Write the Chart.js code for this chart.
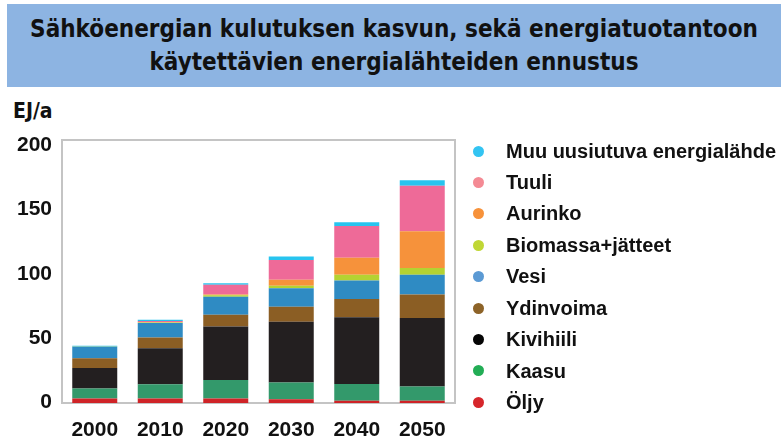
<!DOCTYPE html>
<html><head><meta charset="utf-8">
<script src="https://cdn.jsdelivr.net/npm/chart.js@4/dist/chart.umd.min.js"></script>
<style>
html,body{margin:0;padding:0;background:#fff;width:781px;height:441px;overflow:hidden;}
#wrap{position:relative;width:781px;height:441px;}
#title{position:absolute;left:7px;top:4px;width:774px;height:74px;padding-top:9px;background:#8db4e2;
 font-family:"DejaVu Sans Condensed","DejaVu Sans",sans-serif;font-weight:bold;font-size:24px;color:#111;text-align:center;line-height:33px;}
#unit{position:absolute;left:13px;top:98px;font-family:"DejaVu Sans Condensed","DejaVu Sans",sans-serif;font-weight:bold;font-size:21px;color:#111;line-height:26px;}
#chart{position:absolute;left:0;top:0;}
.dot{position:absolute;left:473px;width:11px;height:11px;border-radius:50%;}
.lt{position:absolute;left:506px;white-space:nowrap;font-family:"Liberation Sans",Arial,sans-serif;font-weight:bold;font-size:20px;color:#111;line-height:22px;}
</style></head>
<body><div id="wrap">
<div id="title">Sähköenergian kulutuksen kasvun, sekä energiatuotantoon<br>käytettävien energialähteiden ennustus</div>
<div id="unit">EJ/a</div>
<canvas id="chart" width="781" height="441"></canvas>
<div id="legend"></div>
</div>
<script>
// Categories
const years = ['2000','2010','2020','2030','2040','2050'];
// Series values (EJ/a), bottom to top in the stack
const oljy      = [3.5, 3.5, 3.5, 3.0, 1.8, 1.8];
const kaasu     = [7.8, 11.2, 14.5, 13.0, 13.0, 11.0];
const kivihiili = [16.0, 28.0, 41.7, 47.3, 52.0, 53.4];
const ydinvoima = [7.5, 8.4, 9.1, 11.7, 14.3, 18.4];
const vesi      = [9.0, 11.2, 14.1, 14.4, 14.3, 15.4];
const biomassa  = [0.3, 0.5, 1.0, 2.0, 4.5, 5.2];
const aurinko   = [0.0, 0.2, 0.6, 4.7, 13.3, 28.6];
const tuuli     = [0.0, 1.0, 7.6, 15.4, 24.8, 35.5];
const muu       = [0.6, 0.8, 1.3, 2.6, 2.8, 4.4];
// Series names and y tick labels
const seriesNames = ['Öljy','Kaasu','Kivihiili','Ydinvoima','Vesi','Biomassa+jätteet','Aurinko','Tuuli','Muu uusiutuva energialähde'];
const yTickValues = [0, 50, 100, 150, 200];

const seriesData = [oljy, kaasu, kivihiili, ydinvoima, vesi, biomassa, aurinko, tuuli, muu];
const barColors = ['#cf2327','#33996b','#231f20','#8b5e24','#2f8bc3','#b4d232','#f6923b','#ee6a98','#27c4ef'];
const legendColors = ['#d6262b','#22ad55','#050505','#8d6328','#5b9ad4','#c0d735','#f7923a','#f48a94','#33c4f2'];

const boxPlugin = {
  id: 'box',
  beforeDatasetsDraw(chart) {
    const {ctx, chartArea: a} = chart;
    ctx.save();
    ctx.strokeStyle = '#c4c4c4';
    ctx.lineWidth = 2;
    ctx.strokeRect(a.left, a.top, a.right - a.left, a.bottom - a.top);
    ctx.restore();
  }
};

const tickFont = {family: '"Liberation Sans", Arial, sans-serif', weight: 'bold', size: 21};

new Chart(document.getElementById('chart'), {
  type: 'bar',
  data: {
    labels: years,
    datasets: seriesNames.map((n, i) => ({
      label: n,
      data: seriesData[i],
      backgroundColor: barColors[i],
      borderWidth: 0,
      categoryPercentage: 1,
      barPercentage: 0.687
    }))
  },
  options: {
    responsive: false,
    animation: false,
    layout: {padding: {top: 140, right: 326, left: 0, bottom: 0}},
    plugins: {legend: {display: false}, title: {display: false}, tooltip: {enabled: false}},
    scales: {
      x: {
        stacked: true,
        grid: {display: false},
        border: {display: false},
        ticks: {font: tickFont, color: '#111', padding: 7, maxRotation: 0},
        afterFit(s) { s.height = 38; }
      },
      y: {
        stacked: true,
        min: 0,
        max: 205,
        grid: {display: false},
        border: {display: false},
        afterBuildTicks(s) { s.ticks = yTickValues.map(v => ({value: v})); },
        ticks: {font: tickFont, color: '#111', padding: 2, labelOffset: -1},
        afterFit(s) { s.width = 62; }
      }
    }
  },
  plugins: [boxPlugin]
});

// Legend (top item first)
const legendTops = [151, 182, 213, 245, 276, 308, 339, 370.5, 402];
const lg = document.getElementById('legend');
for (let k = 0; k < seriesNames.length; k++) {
  const i = seriesNames.length - 1 - k;
  const cy = legendTops[k];
  const dot = document.createElement('div');
  dot.className = 'dot';
  dot.style.top = (cy - 5.5) + 'px';
  dot.style.background = legendColors[i];
  const t = document.createElement('div');
  t.className = 'lt';
  t.style.top = (cy - 11) + 'px';
  t.textContent = seriesNames[i];
  lg.appendChild(dot);
  lg.appendChild(t);
}
</script>
</body></html>
